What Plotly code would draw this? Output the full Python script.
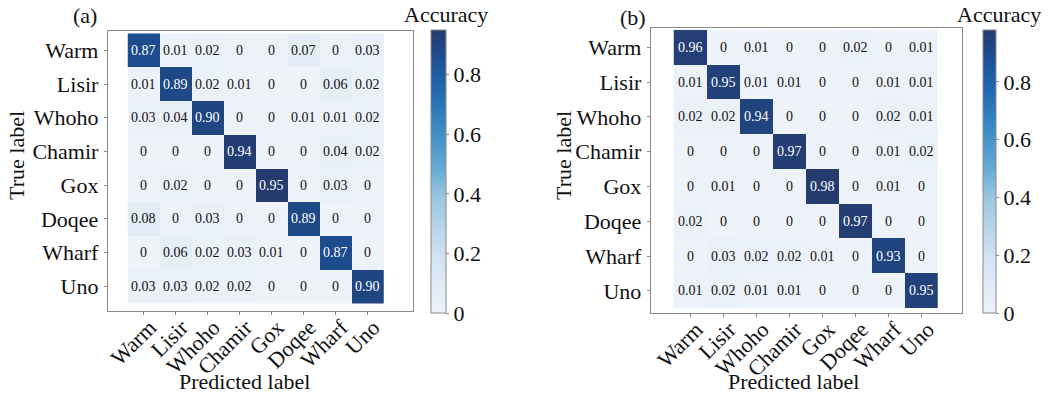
import plotly.graph_objects as go

labels = ["Warm", "Lisir", "Whoho", "Chamir", "Gox", "Doqee", "Wharf", "Uno"]

cm_a = [
    [0.87, 0.01, 0.02, 0, 0, 0.07, 0, 0.03],
    [0.01, 0.89, 0.02, 0.01, 0, 0, 0.06, 0.02],
    [0.03, 0.04, 0.90, 0, 0, 0.01, 0.01, 0.02],
    [0, 0, 0, 0.94, 0, 0, 0.04, 0.02],
    [0, 0.02, 0, 0, 0.95, 0, 0.03, 0],
    [0.08, 0, 0.03, 0, 0, 0.89, 0, 0],
    [0, 0.06, 0.02, 0.03, 0.01, 0, 0.87, 0],
    [0.03, 0.03, 0.02, 0.02, 0, 0, 0, 0.90],
]

cm_b = [
    [0.96, 0, 0.01, 0, 0, 0.02, 0, 0.01],
    [0.01, 0.95, 0.01, 0.01, 0, 0, 0.01, 0.01],
    [0.02, 0.02, 0.94, 0, 0, 0, 0.02, 0.01],
    [0, 0, 0, 0.97, 0, 0, 0.01, 0.02],
    [0, 0.01, 0, 0, 0.98, 0, 0.01, 0],
    [0.02, 0, 0, 0, 0, 0.97, 0, 0],
    [0, 0.03, 0.02, 0.02, 0.01, 0, 0.93, 0],
    [0.01, 0.02, 0.01, 0.01, 0, 0, 0, 0.95],
]

cbar_ticks = [0, 0.2, 0.4, 0.6, 0.8]

W, H = 1051, 395
FONT = "Liberation Serif, DejaVu Serif, serif"
GREY = "#8a8a8a"


def fx(px):
    return px / W


def fy(py):
    return 1 - py / H


colorscale = [
    [0.0, "#eef3fa"],
    [0.2, "#d2e2f2"],
    [0.4, "#9dc8e1"],
    [0.5, "#6aaed6"],
    [0.65, "#3a8bc5"],
    [0.8, "#1f66ae"],
    [0.9, "#1c4f94"],
    [1.0, "#253b6e"],
]


def fmt(v):
    return "0" if v == 0 else f"{v:.2f}"


fig = go.Figure()

panels = [
    dict(z=cm_a, box=(106, 412, 31, 311), xr=(-1.125, 8.4375), yr=(7.73, -0.574),
         cb=(430, 15, 30, 313), tag="(a)", tagxy=(83, 16), acc=(445, 15),
         ytitle=(14, 155), xtitle=(243, 381)),
    dict(z=cm_b, box=(650, 962, 28, 313), xr=(-1.195, 8.225), yr=(7.635, -0.557),
         cb=(983, 13, 30, 313), tag="(b)", tagxy=(632, 17), acc=(999, 15),
         ytitle=(562, 155), xtitle=(793, 381)),
]

annotations = []
for i, p in enumerate(panels):
    n = "" if i == 0 else str(i + 1)
    xa, ya = "x" + n, "y" + n
    x0, x1, y0, y1 = p["box"]
    z = p["z"]
    zmax = max(max(r) for r in z)
    cbx, cbt, cby0, cby1 = p["cb"]
    fig.add_trace(go.Heatmap(
        z=z, x=list(range(len(labels))), y=list(range(len(labels))),
        xaxis=xa, yaxis=ya, zmin=0, zmax=zmax, colorscale=colorscale,
        hoverinfo="skip",
        colorbar=dict(
            x=fx(cbx), xanchor="left", xpad=0, ypad=0,
            y=(fy(cby0) + fy(cby1)) / 2, yanchor="middle",
            len=cby1 - cby0, lenmode="pixels",
            thickness=cbt, thicknessmode="pixels",
            outlinecolor=GREY, outlinewidth=1,
            tickvals=cbar_ticks, ticktext=[("0" if t == 0 else f"{t:.1f}") for t in cbar_ticks],
            ticks="outside", ticklen=3, tickcolor=GREY,
            tickfont=dict(family=FONT, size=22, color="#111"),
        ),
    ))
    axkw = dict(showgrid=False, zeroline=False, showline=True, linecolor=GREY,
                linewidth=1, mirror=True, ticks="outside", ticklen=3, tickcolor=GREY,
                tickfont=dict(family=FONT, size=22, color="#111"),
                tickvals=list(range(len(labels))), ticktext=labels)
    fig.layout["xaxis" + n] = dict(domain=[fx(x0), fx(x1)], range=list(p["xr"]),
                                   anchor=ya, tickangle=-45, ticklabelstandoff=-9,
                                   ticklabelshift=6, **axkw)
    fig.layout["yaxis" + n] = dict(domain=[fy(y1), fy(y0)], range=list(p["yr"]),
                                   anchor=xa, ticklabelstandoff=1, **axkw)
    for r, row in enumerate(z):
        for c, v in enumerate(row):
            annotations.append(dict(
                x=c, y=r, xref=xa, yref=ya, text=fmt(v), showarrow=False,
                font=dict(family=FONT, size=14, color="white" if r == c else "#111")))
    paper_txt = [
        (p["tag"], p["tagxy"], 22, 0),
        ("Accuracy", p["acc"], 22, 0),
        ("True label", p["ytitle"], 22, -90),
        ("Predicted label", p["xtitle"], 22, 0),
    ]
    for txt, (px, py), sz, ang in paper_txt:
        annotations.append(dict(
            x=fx(px), y=fy(py), xref="paper", yref="paper", text=txt,
            showarrow=False, xanchor="center", yanchor="middle", textangle=ang,
            font=dict(family=FONT, size=sz, color="#111")))

fig.update_layout(
    width=W, height=H, margin=dict(l=0, r=0, t=0, b=0),
    paper_bgcolor="white", plot_bgcolor="white",
    annotations=annotations, showlegend=False,
    font=dict(family=FONT),
)

fig.write_html("out.html", config={"displayModeBar": False, "staticPlot": True},
               post_script="document.body.style.margin='0';document.body.style.overflow='hidden';")
